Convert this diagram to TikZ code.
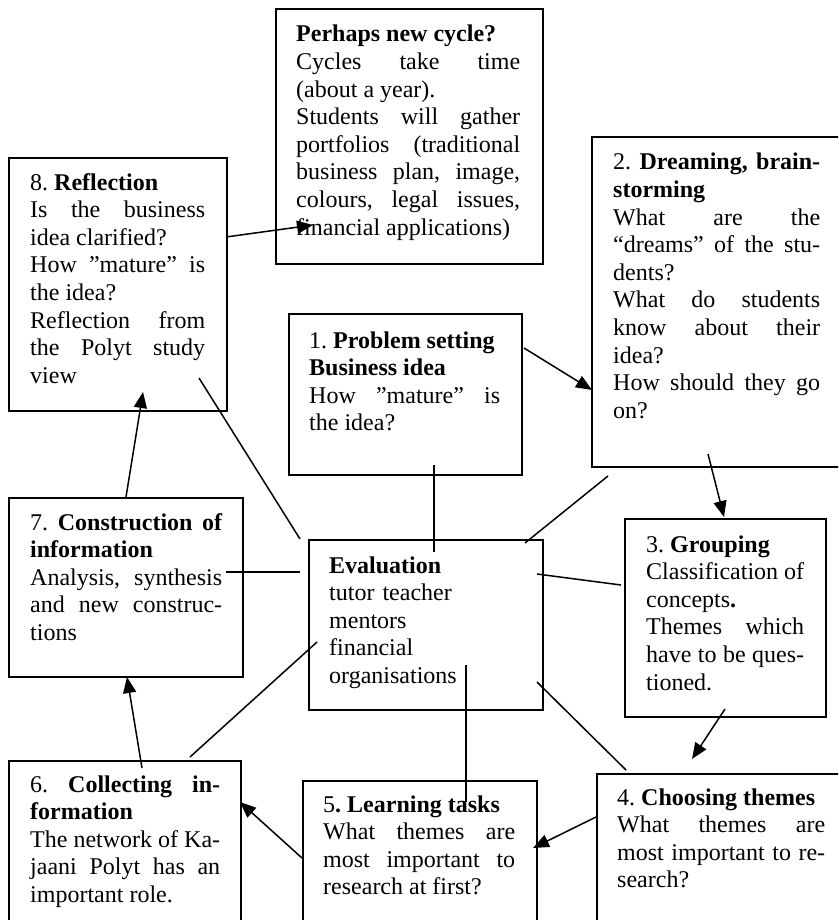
\documentclass[tikz,border=0pt]{standalone}
\usepackage{fontspec}
\setmainfont{Liberation Serif}
\usetikzlibrary{arrows.meta}
\tolerance=9999
\hbadness=10000
\hfuzz=20pt
\hyphenpenalty=10000
\frenchspacing
\tikzset{
  frame/.style={draw, line width=1.6pt, inner sep=0pt, anchor=north west},
  txt/.style={anchor=base west, inner sep=0pt, align=justify,
    font=\fontsize{24}{27.6}\selectfont},
  evtxt/.style={anchor=base west, inner sep=0pt, align=left, text width=200,
    font=\fontsize{24}{27.6}\selectfont},
  arr/.style={line width=1.5pt, -{Triangle[length=16pt,width=13pt]}},
  ln/.style={line width=1.5pt},
}
\begin{document}
\begin{tikzpicture}[x=1pt,y=-1pt]
\useasboundingbox (0,0) rectangle (838,920);
\clip (0,0) rectangle (838,920);
\fill[white] (0,0) rectangle (838,920);

% frames
\node[frame, minimum width=267, minimum height=255] (pc) at (275,8) {};
\node[frame, minimum width=218, minimum height=253] (b8) at (8,157) {};
\node[frame, minimum width=270, minimum height=330] (b2) at (591,136) {};
\node[frame, minimum width=233, minimum height=161] (b1) at (288,313) {};
\node[frame, minimum width=234, minimum height=179] (b7) at (8,497) {};
\node[frame, minimum width=234, minimum height=170] (ev) at (308,539) {};
\node[frame, minimum width=201, minimum height=198] (b3) at (624,518) {};
\node[frame, minimum width=232, minimum height=200] (b6) at (8,760) {};
\node[frame, minimum width=234, minimum height=180] (b5) at (302,780) {};
\node[frame, minimum width=270, minimum height=187] (b4) at (596,773) {};

% texts
\node[txt, text width=224] (tpc) at (296,42) {\textbf{Perhaps new cycle?}\par
Cycles take time\linebreak (about a year).\par
Students will gather\linebreak portfolios (traditional\linebreak business plan, image,\linebreak colours, legal issues,\linebreak financial applications)};

\node[txt, text width=175] (t8) at (30,190) {8. \textbf{Reflection}\par
Is the business\linebreak idea clarified?\par
How ”mature” is\linebreak the idea?\par
Reflection from\linebreak the Polyt study\linebreak view};

\node[txt, text width=207] (t2) at (613,170) {2. \textbf{Dreaming, brain-\linebreak storming}\par
What are the\linebreak “dreams” of the stu-\linebreak dents?\par
What do students\linebreak know about their\linebreak idea?\par
How should they go\linebreak on?};

\node[txt, text width=191] (t1) at (309,348) {1. \textbf{Problem setting}\par
\textbf{Business idea}\par
How ”mature” is\linebreak the idea?};

\node[txt, text width=192] (t7) at (30,530) {7. \textbf{Construction of\linebreak information}\par
Analysis, synthesis\linebreak and new construc-\linebreak tions};

\node[evtxt] (tev) at (329,573) {\textbf{Evaluation}\\ tutor teacher\\ mentors\\ financial\\ organisations};

\node[txt, text width=158] (t3) at (646,552) {3. \textbf{Grouping}\par
Classification of\linebreak concepts\textbf{.}\par
Themes which\linebreak have to be ques-\linebreak tioned.};

\node[txt, text width=190] (t6) at (30,792) {6. \textbf{Collecting in-\linebreak formation}\par
The network of Ka-\linebreak jaani Polyt has an\linebreak important role.};

\node[txt, text width=192] (t5) at (323,812) {5\textbf{. Learning tasks}\par
What themes are\linebreak most important to\linebreak research at first?};

\node[txt, text width=208] (t4) at (617,805) {4. \textbf{Choosing themes}\par
What themes are\linebreak most important to re-\linebreak search?};

% connector end points
\coordinate (a1s) at (226,237); \coordinate (a1e) at (313,225);
\coordinate (a2s) at (524,348); \coordinate (a2e) at (592,390);
\coordinate (a3s) at (708,454); \coordinate (a3e) at (724,517);
\coordinate (a4s) at (725,709); \coordinate (a4e) at (692,759);
\coordinate (a5s) at (596,817); \coordinate (a5e) at (533,848);
\coordinate (a6s) at (302,858); \coordinate (a6e) at (240,802);
\coordinate (a7s) at (142,768); \coordinate (a7e) at (127,677);
\coordinate (a8s) at (126,497); \coordinate (a8e) at (143,392);

\coordinate (l8s) at (199,378); \coordinate (l8e) at (300,539);
\coordinate (l7s) at (226,572); \coordinate (l7e) at (300,572);
\coordinate (l1s) at (434,465); \coordinate (l1e) at (434,552);
\coordinate (l2s) at (608,476); \coordinate (l2e) at (525,543);
\coordinate (l3s) at (537,574); \coordinate (l3e) at (621,585);
\coordinate (l4s) at (537,682); \coordinate (l4e) at (626,770);
\coordinate (l5s) at (466,665); \coordinate (l5e) at (466,802);
\coordinate (l6s) at (190,757); \coordinate (l6e) at (317,642);

% arrows of the cycle
\draw[arr] (a1s) -- (a1e);
\draw[arr] (a2s) -- (a2e);
\draw[arr] (a3s) -- (a3e);
\draw[arr] (a4s) -- (a4e);
\draw[arr] (a5s) -- (a5e);
\draw[arr] (a6s) -- (a6e);
\draw[arr] (a7s) -- (a7e);
\draw[arr] (a8s) -- (a8e);

% lines to evaluation
\draw[ln] (l8s) -- (l8e);
\draw[ln] (l7s) -- (l7e);
\draw[ln] (l1s) -- (l1e);
\draw[ln] (l2s) -- (l2e);
\draw[ln] (l3s) -- (l3e);
\draw[ln] (l4s) -- (l4e);
\draw[ln] (l5s) -- (l5e);
\draw[ln] (l6s) -- (l6e);
\end{tikzpicture}
\end{document}
